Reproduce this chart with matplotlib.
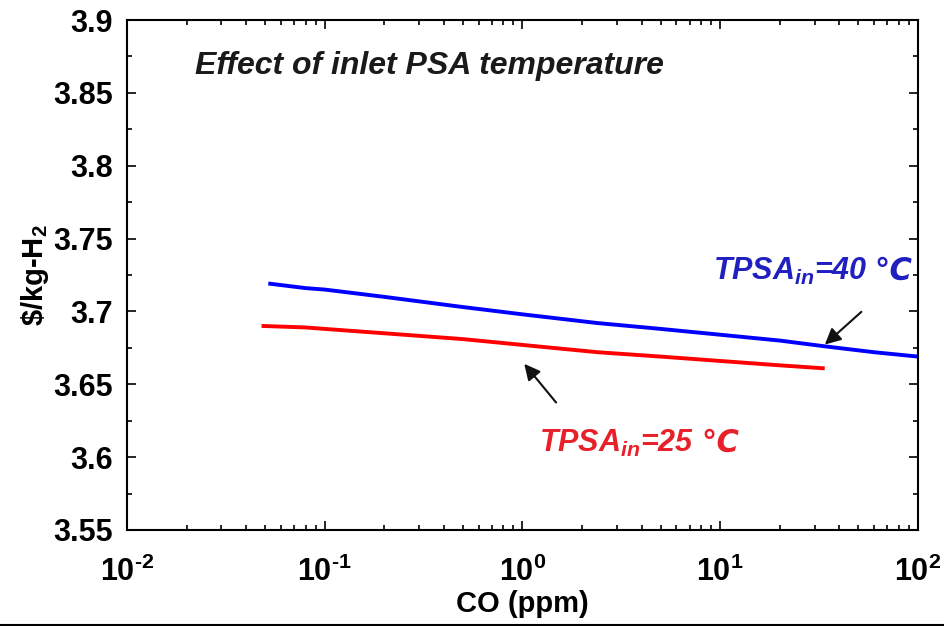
import numpy as np
import matplotlib
matplotlib.use('Agg')
import matplotlib.pyplot as plt
from matplotlib.lines import Line2D
from matplotlib.ticker import MultipleLocator, LogLocator, NullFormatter, FuncFormatter

plt.rcParams['font.family'] = ['Liberation Sans', 'DejaVu Sans']
plt.rcParams['font.weight'] = 'bold'
plt.rcParams['mathtext.fontset'] = 'custom'
plt.rcParams['mathtext.rm'] = 'Liberation Sans:bold'
plt.rcParams['mathtext.it'] = 'Liberation Sans:bold:italic'
plt.rcParams['mathtext.bf'] = 'Liberation Sans:bold'

# values
co_40 = [0.053, 0.08, 0.1, 0.2, 0.5, 1.0, 2.4, 5.0, 10.0, 20.0, 34.0, 60.0, 100.0]
cost_40 = [3.719, 3.716, 3.715, 3.710, 3.703, 3.698, 3.692, 3.688, 3.684, 3.680, 3.676, 3.672, 3.669]
co_25 = [0.049, 0.08, 0.1, 0.2, 0.5, 1.0, 2.4, 5.0, 10.0, 20.0, 33.0]
cost_25 = [3.690, 3.689, 3.688, 3.685, 3.681, 3.677, 3.672, 3.669, 3.666, 3.663, 3.661]
y_ticks = [3.55, 3.6, 3.65, 3.7, 3.75, 3.8, 3.85, 3.9]
y_ticklabels = ['3.55', '3.6', '3.65', '3.7', '3.75', '3.8', '3.85', '3.9']

fig = plt.figure(figsize=(9.45, 6.26), dpi=100)
ax = fig.add_axes([0.1344, 0.1534, 0.8370, 0.8146])

ax.plot(co_40, cost_40, color='#0000ff', lw=2.8)
ax.plot(co_25, cost_25, color='#ff0000', lw=2.8)

ax.set_xscale('log')
ax.set_xlim(1e-2, 1e2)
ax.set_ylim(3.55, 3.9)
ax.set_yticks(y_ticks)
ax.set_yticklabels(y_ticklabels)
ax.yaxis.set_minor_locator(MultipleLocator(0.025))
ax.xaxis.set_major_locator(LogLocator(base=10, numticks=10))
ax.xaxis.set_minor_locator(LogLocator(base=10, subs=np.arange(2, 10), numticks=10))
ax.xaxis.set_minor_formatter(NullFormatter())
ax.xaxis.set_major_formatter(FuncFormatter(
    lambda v, p: r'$10^{\text{%d}}$' % int(round(np.log10(v)))))

ax.tick_params(which='both', direction='in', top=True, right=True, width=1.2)
ax.tick_params(which='major', length=6.5, labelsize=22)
ax.tick_params(which='minor', length=3.5)
ax.tick_params(axis='y', which='major', pad=10)
ax.tick_params(axis='x', which='major', pad=19)
for s in ax.spines.values():
    s.set_linewidth(1.5)

ax.set_xlabel('CO (ppm)', fontsize=21, fontweight='bold', labelpad=2)
ax.set_ylabel(r'\$/kg-H$_2$', fontsize=21, fontweight='bold', labelpad=2)

ax.text(0.086, 0.91, 'Effect of inlet PSA temperature', transform=ax.transAxes,
        fontsize=23, fontweight='bold', style='italic', color='#1a1a1a',
        va='center', ha='left')

t40 = ax.text(0.741, 0.507, r'$TPSA_{in}$=40', transform=ax.transAxes,
              fontsize=22, fontweight='bold', style='italic', color='#2020c0',
              ha='left', va='center')
ax.annotate('℃', xy=(1, 0.5), xycoords=t40, xytext=(5, 0), textcoords='offset points',
            fontsize=22, fontweight='bold', style='italic', color='#2020c0',
            family='DejaVu Sans', ha='left', va='center')
t25 = ax.text(0.521, 0.17, r'$TPSA_{in}$=25', transform=ax.transAxes,
              fontsize=22, fontweight='bold', style='italic', color='#e8202a',
              ha='left', va='center')
ax.annotate('℃', xy=(1, 0.5), xycoords=t25, xytext=(5, 0), textcoords='offset points',
            fontsize=22, fontweight='bold', style='italic', color='#e8202a',
            family='DejaVu Sans', ha='left', va='center')

ax.annotate('', xy=(33, 3.676), xytext=(53, 3.701),
            arrowprops=dict(arrowstyle='-|>', color='#111111', lw=1.5, mutation_scale=24))
ax.annotate('', xy=(1.0, 3.6655), xytext=(1.51, 3.636),
            arrowprops=dict(arrowstyle='-|>', color='#111111', lw=1.5, mutation_scale=24))

fig.add_artist(Line2D([0, 1], [0.0016, 0.0016], color='black', lw=1.5, transform=fig.transFigure))

fig.savefig('out.png', dpi=100)
